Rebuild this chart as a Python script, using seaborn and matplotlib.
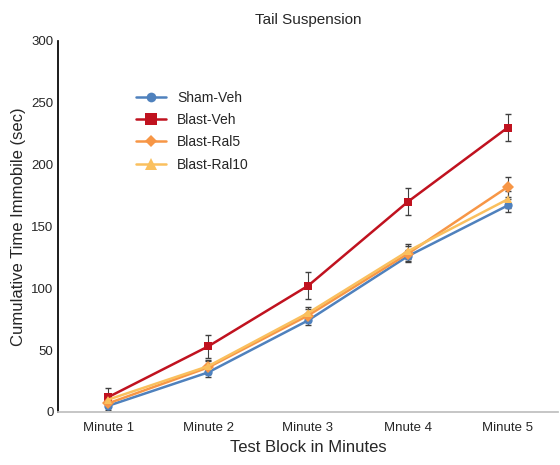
import pandas as pd
import matplotlib.pyplot as plt
import seaborn as sns

# data
blocks = ["Minute 1", "Minute 2", "Minute 3", "Mnute 4", "Minute 5"]
groups = ["Sham-Veh", "Blast-Veh", "Blast-Ral5", "Blast-Ral10"]
sham_veh = [5, 32, 74, 126, 167]
blast_veh = [12, 53, 102, 170, 230]
blast_ral5 = [7, 36, 78, 128, 182]
blast_ral10 = [10, 37, 80, 130, 172]
sham_err = [3, 4, 4, 5, 5]
blast_err = [7, 9, 11, 11, 11]
ral5_err = [4, 5, 5, 6, 8]
ral10_err = [4, 5, 5, 6, 7]

rows = []
for g, vals, errs in zip(groups, [sham_veh, blast_veh, blast_ral5, blast_ral10],
                         [sham_err, blast_err, ral5_err, ral10_err]):
    for i, (b, v, e) in enumerate(zip(blocks, vals, errs)):
        rows.append({"group": g, "block": b, "pos": i, "value": v, "err": e})
df = pd.DataFrame(rows)

sns.set_theme(style="white")
plt.rcParams['font.family'] = ['Liberation Sans', 'DejaVu Sans']
fig = plt.figure(figsize=(5.6, 4.65), dpi=100)
ax = fig.add_axes([0.104, 0.114, 0.892, 0.798])

colors = {"Sham-Veh": "#4f81bd", "Blast-Veh": "#c0121f",
          "Blast-Ral5": "#f79646", "Blast-Ral10": "#fac05e"}
markers = {"Sham-Veh": "o", "Blast-Veh": "s", "Blast-Ral5": "D", "Blast-Ral10": "^"}
sizes = {"Sham-Veh": 7, "Blast-Veh": 8, "Blast-Ral5": 6, "Blast-Ral10": 8}

for g in groups:
    d = df[df.group == g]
    ax.errorbar(d.pos, d.value, yerr=d.err, fmt="none", ecolor="#404040",
                elinewidth=0.8, capsize=2.5, zorder=1)
sns.lineplot(data=df, x="pos", y="value", hue="group", style="group",
             palette=colors, markers=markers, dashes=False, linewidth=1.8,
             markeredgewidth=0, ax=ax, zorder=2)
for line, g in zip(ax.get_lines()[-len(groups):], groups):
    line.set_markersize(sizes[g])

ax.set_xlim(-0.5, 4.5)
ax.set_ylim(0, 300)
ax.set_yticks(range(0, 301, 50))
ax.set_xticks(range(len(blocks)))
ax.set_xticklabels(blocks)
ax.tick_params(axis="both", labelsize=9.5, length=0)
ax.tick_params(axis="x", length=4, color="#bfbfbf", direction="out")
for s in ["top", "right"]:
    ax.spines[s].set_visible(False)
ax.spines["left"].set_color("black")
ax.spines["bottom"].set_color("#bfbfbf")
ax.set_xlabel("Test Block in Minutes", fontsize=12)
ax.set_ylabel("Cumulative Time Immobile (sec)", fontsize=12)
ax.set_title("Tail Suspension", fontsize=11, pad=12)

h, l = ax.get_legend_handles_labels()
for hh, g in zip(h, groups):
    hh.set_markersize(sizes[g])
ax.legend(h, l, loc="upper left", bbox_to_anchor=(0.13, 0.9), frameon=False,
          fontsize=10, handlelength=2.2, labelspacing=0.6)

plt.savefig("out.png", dpi=100)
